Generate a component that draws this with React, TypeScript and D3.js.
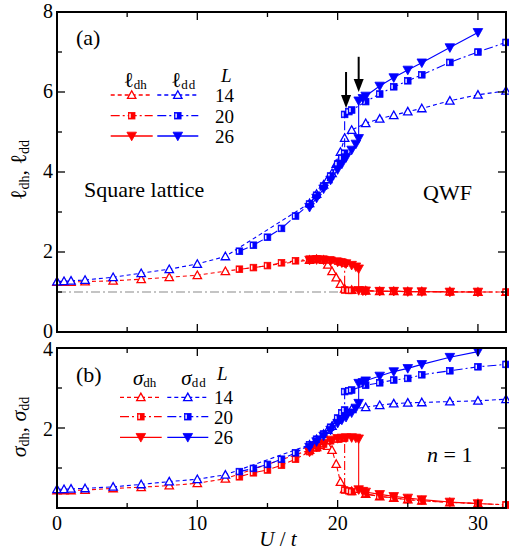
import React from 'react';
import * as d3 from 'd3';

// ---------- data ----------
const U14 = [0, 0.5, 1, 2, 4, 6, 8, 10, 12, 18, 18.5, 19, 19.3, 19.6, 19.9, 20.2, 20.5, 21, 22, 23, 24, 25, 26, 28, 30, 32];
const U20 = [13, 14, 15, 16, 17, 18, 18.5, 19, 19.5, 20, 20.3, 20.5, 20.5, 20.8, 21, 22, 23, 24, 25, 26, 28, 30, 32];
const U26 = [18, 18.5, 19, 19.5, 20, 20.3, 20.6, 21, 21.3, 21.5, 21.5, 21.8, 22, 23, 24, 25, 26, 28, 30];

// panel (a): ell
const lDd14 = [1.26, 1.27, 1.28, 1.30, 1.37, 1.47, 1.57, 1.70, 1.89, 3.22, 3.45, 3.68, 3.82, 3.97, 4.2, 4.5, 4.85, 5.05, 5.22, 5.33, 5.42, 5.51, 5.59, 5.78, 5.93, 6.03];
const lDh14 = [1.25, 1.25, 1.25, 1.26, 1.28, 1.32, 1.37, 1.42, 1.52, 1.80, 1.82, 1.80, 1.68, 1.52, 1.36, 1.2, 1.08, 1.05, 1.03, 1.02, 1.02, 1.01, 1.01, 1.01, 1.0, 1.0];
const lDd20 = [2.02, 2.17, 2.37, 2.59, 2.9, 3.2, 3.42, 3.65, 3.9, 4.2, 4.35, 4.47, 5.44, 5.51, 5.55, 5.76, 5.95, 6.13, 6.28, 6.43, 6.74, 7.0, 7.24];
const lDh20 = [1.57, 1.61, 1.66, 1.73, 1.78, 1.82, 1.83, 1.82, 1.8, 1.77, 1.75, 1.72, 1.05, 1.04, 1.04, 1.03, 1.02, 1.02, 1.01, 1.01, 1.0, 1.0, 1.0];
const lDd26 = [3.12, 3.35, 3.58, 3.8, 4.06, 4.2, 4.36, 4.55, 4.7, 4.84, 5.78, 5.84, 5.9, 6.15, 6.36, 6.55, 6.73, 7.11, 7.49];
const lDh26 = [1.8, 1.81, 1.8, 1.78, 1.75, 1.73, 1.71, 1.67, 1.63, 1.58, 1.04, 1.03, 1.03, 1.02, 1.02, 1.01, 1.01, 1.0, 1.0];

// panel (b): sigma
const sDd14 = [0.47, 0.47, 0.48, 0.49, 0.53, 0.59, 0.66, 0.72, 0.83, 1.58, 1.72, 1.85, 1.95, 2.05, 2.2, 2.3, 2.4, 2.47, 2.52, 2.57, 2.61, 2.63, 2.64, 2.66, 2.68, 2.72];
const sDh14 = [0.44, 0.44, 0.44, 0.45, 0.49, 0.52, 0.56, 0.62, 0.73, 1.45, 1.52, 1.57, 1.55, 1.45, 1.1, 0.65, 0.47, 0.42, 0.35, 0.29, 0.25, 0.21, 0.18, 0.14, 0.11, 0.08];
const sDd20 = [0.91, 0.99, 1.09, 1.22, 1.38, 1.58, 1.72, 1.85, 2.02, 2.25, 2.38, 2.45, 2.91, 2.93, 2.95, 3.07, 3.13, 3.2, 3.24, 3.33, 3.43, 3.53, 3.59];
const sDh20 = [0.78, 0.88, 0.95, 1.07, 1.22, 1.41, 1.5, 1.6, 1.68, 1.72, 1.74, 1.75, 0.45, 0.43, 0.41, 0.35, 0.29, 0.25, 0.21, 0.18, 0.14, 0.11, 0.08];
const sDd26 = [1.52, 1.66, 1.8, 1.95, 2.12, 2.2, 2.27, 2.38, 2.5, 2.62, 3.12, 3.14, 3.18, 3.3, 3.41, 3.49, 3.59, 3.77, 3.91];
const sDh26 = [1.4, 1.52, 1.62, 1.7, 1.74, 1.75, 1.76, 1.76, 1.75, 1.73, 0.46, 0.42, 0.4, 0.34, 0.29, 0.25, 0.21, 0.15, 0.11];

// reference line and arrows (panel a)
const refLineU = [0, 20.2];
const refLineV = [1, 1];
const arrowU = [20.6, 21.5];
const arrowTop = [6.5, 6.88];
const arrowTip = [5.6, 6.0];

// axes
const xMajor = [0, 10, 20, 30];
const xMinor = [5, 15, 25];
const yaMajor = [0, 2, 4, 6, 8];
const yaMinor = [1, 3, 5, 7];
const ybMajor = [0, 2, 4];
const ybMinor = [1, 3];
const ybLabels = [2, 4];
const sizes = ['14', '20', '26'];

const RED = '#ff0000';
const BLUE = '#0000ff';
const FONT = "'Liberation Serif', 'Times New Roman', Times, Tinos, 'Noto Serif', 'DejaVu Serif', FreeSerif, serif";
const serif = { fontFamily: FONT };

type MarkerKind = 'up' | 'sq' | 'down';
const DASH: Record<MarkerKind, string | undefined> = { up: '4,3', sq: '9,3,2,3', down: undefined };

function Marker({ kind, cx, cy, color }: { kind: MarkerKind; cx: number; cy: number; color: string }) {
  if (kind === 'up') {
    const s = 4.2;
    return <path d={`M${cx},${cy - s}L${cx + s},${cy + s * 0.8}L${cx - s},${cy + s * 0.8}Z`} fill="white" stroke={color} strokeWidth={1.3} />;
  }
  if (kind === 'down') {
    const s = 4.8;
    return <path d={`M${cx},${cy + s}L${cx + s},${cy - s * 0.8}L${cx - s},${cy - s * 0.8}Z`} fill={color} stroke={color} strokeWidth={0.8} />;
  }
  const h = 3.3;
  return (
    <g>
      <rect x={cx - h} y={cy - h} width={2 * h} height={2 * h} fill={color} stroke={color} strokeWidth={0.8} />
      <rect x={cx - h + 0.9} y={cy - h + 1.2} width={1.4} height={2 * h - 2.4} fill="white" />
    </g>
  );
}

function Series({ U, V, x, y, color, kind }: any) {
  const line = d3.line<number>().x((_, i) => x(U[i])).y((v) => y(v));
  return (
    <g>
      <path d={line(V) || ''} fill="none" stroke={color} strokeWidth={1.1} strokeDasharray={DASH[kind as MarkerKind]} />
      {V.map((v: number, i: number) => (
        <Marker key={i} kind={kind} cx={x(U[i])} cy={y(v)} color={color} />
      ))}
    </g>
  );
}

function Frame({ x, y, yMajor, yMinor }: any) {
  const [x0, x1] = x.range();
  const [yb, yt] = y.range();
  const Ma = 8, mi = 5;
  return (
    <g stroke="black">
      {xMajor.map((t: number) => (
        <g key={'xM' + t}>
          <line x1={x(t)} x2={x(t)} y1={yb} y2={yb - Ma} strokeWidth={1.3} />
          <line x1={x(t)} x2={x(t)} y1={yt} y2={yt + Ma} strokeWidth={1.3} />
        </g>
      ))}
      {xMinor.map((t: number) => (
        <g key={'xm' + t}>
          <line x1={x(t)} x2={x(t)} y1={yb} y2={yb - mi} strokeWidth={1.3} />
          <line x1={x(t)} x2={x(t)} y1={yt} y2={yt + mi} strokeWidth={1.3} />
        </g>
      ))}
      {yMajor.map((t: number) => (
        <g key={'yM' + t}>
          <line x1={x0} x2={x0 + Ma} y1={y(t)} y2={y(t)} strokeWidth={1.3} />
          <line x1={x1} x2={x1 - Ma} y1={y(t)} y2={y(t)} strokeWidth={1.3} />
        </g>
      ))}
      {yMinor.map((t: number) => (
        <g key={'ym' + t}>
          <line x1={x0} x2={x0 + mi} y1={y(t)} y2={y(t)} strokeWidth={1.3} />
          <line x1={x1} x2={x1 - mi} y1={y(t)} y2={y(t)} strokeWidth={1.3} />
        </g>
      ))}
      <rect x={x0} y={yt} width={x1 - x0} height={yb - yt} fill="none" strokeWidth={2} />
    </g>
  );
}

function Legend({ sym, yHead, rows, xr, xb, xl, xL }: any) {
  const kinds: MarkerKind[] = ['up', 'sq', 'down'];
  const it = sym === 'σ' ? 'italic' : 'normal';
  return (
    <g style={serif}>
      <text x={xr[0] + 13} y={yHead} fontSize={21} fontStyle={it}>
        {sym}
        <tspan fontSize={13} dy={2} fontStyle="normal">dh</tspan>
      </text>
      <text x={xb[0] + 14} y={yHead} fontSize={21} fontStyle={it}>
        {sym}
        <tspan fontSize={13} dy={2} fontStyle="normal" letterSpacing={1}>dd</tspan>
      </text>
      <text x={xL} y={yHead - 5} fontSize={19} fontStyle="italic">L</text>
      {rows.map((ry: number, i: number) => (
        <g key={i}>
          <line x1={xr[0]} x2={xr[1]} y1={ry} y2={ry} stroke={RED} strokeWidth={1.3} strokeDasharray={DASH[kinds[i]]} />
          <Marker kind={kinds[i]} cx={(xr[0] + xr[1]) / 2} cy={ry} color={RED} />
          <line x1={xb[0]} x2={xb[1]} y1={ry} y2={ry} stroke={BLUE} strokeWidth={1.3} strokeDasharray={DASH[kinds[i]]} />
          <Marker kind={kinds[i]} cx={(xb[0] + xb[1]) / 2} cy={ry} color={BLUE} />
          <text x={xl} y={ry + 7} fontSize={19}>{sizes[i]}</text>
        </g>
      ))}
    </g>
  );
}

export default function App() {
  const x = d3.scaleLinear().domain([0, 32]).range([57, 506]);
  const ya = d3.scaleLinear().domain([0, 8]).range([332, 12]);
  const yb = d3.scaleLinear().domain([0, 4]).range([508, 348]);

  const seriesA = [
    { U: U14, V: lDh14, color: RED, kind: 'up' },
    { U: U14, V: lDd14, color: BLUE, kind: 'up' },
    { U: U20, V: lDh20, color: RED, kind: 'sq' },
    { U: U20, V: lDd20, color: BLUE, kind: 'sq' },
    { U: U26, V: lDh26, color: RED, kind: 'down' },
    { U: U26, V: lDd26, color: BLUE, kind: 'down' },
  ];
  const seriesB = [
    { U: U14, V: sDh14, color: RED, kind: 'up' },
    { U: U14, V: sDd14, color: BLUE, kind: 'up' },
    { U: U20, V: sDh20, color: RED, kind: 'sq' },
    { U: U20, V: sDd20, color: BLUE, kind: 'sq' },
    { U: U26, V: sDh26, color: RED, kind: 'down' },
    { U: U26, V: sDd26, color: BLUE, kind: 'down' },
  ];

  return (
    <svg width={509} height={550} style={{ position: 'absolute', left: 0, top: 0, background: 'white' }}>
      {/* reference line */}
      <line x1={x(refLineU[0])} x2={x(refLineU[1])} y1={ya(refLineV[0])} y2={ya(refLineV[1])} stroke="#8a8a8a" strokeWidth={1.2} strokeDasharray="9,3,2,3" />
      {seriesA.map((s, i) => <Series key={'a' + i} {...s} x={x} y={ya} />)}
      {seriesB.map((s, i) => <Series key={'b' + i} {...s} x={x} y={yb} />)}

      {/* arrows */}
      {arrowU.map((u, i) => {
        const cx = x(u);
        const t = ya(arrowTop[i]);
        const tip = ya(arrowTip[i]);
        return (
          <g key={'ar' + i}>
            <line x1={cx} x2={cx} y1={t} y2={tip - 10} stroke="black" strokeWidth={2} />
            <path d={`M${cx - 5},${tip - 13}L${cx + 5},${tip - 13}L${cx},${tip}Z`} fill="black" />
          </g>
        );
      })}

      <Frame x={x} y={ya} yMajor={yaMajor} yMinor={yaMinor} />
      <Frame x={x} y={yb} yMajor={ybMajor} yMinor={ybMinor} />

      {/* tick labels */}
      <g style={serif} fontSize={20}>
        {yaMajor.map((t) => (
          <text key={'yal' + t} x={53} y={ya(t) + 6} textAnchor="end">{t}</text>
        ))}
        {ybLabels.map((t) => (
          <text key={'ybl' + t} x={53} y={yb(t) + 8} textAnchor="end">{t}</text>
        ))}
        {xMajor.map((t) => (
          <text key={'xl' + t} x={x(t)} y={530} textAnchor="middle">{t}</text>
        ))}
      </g>

      {/* axis titles */}
      <text x={278} y={546} textAnchor="middle" style={serif} fontSize={21}>
        <tspan fontStyle="italic">U</tspan> / <tspan fontStyle="italic">t</tspan>
      </text>
      <text transform="translate(26,170) rotate(-90)" textAnchor="middle" style={serif} fontSize={22}>
        ℓ<tspan fontSize={14} dy={3}>dh</tspan><tspan dy={-3}>, ℓ</tspan><tspan fontSize={14} dy={3}>dd</tspan>
      </text>
      <text transform="translate(26,427) rotate(-90)" textAnchor="middle" style={serif} fontSize={22}>
        <tspan fontStyle="italic">σ</tspan><tspan fontSize={14} dy={3}>dh</tspan><tspan dy={-3}>, </tspan><tspan fontStyle="italic">σ</tspan><tspan fontSize={14} dy={3}>dd</tspan>
      </text>

      {/* panel texts */}
      <g style={serif}>
        <text x={76} y={45} fontSize={22}>(a)</text>
        <text x={76} y={382} fontSize={22}>(b)</text>
        <text x={84} y={197} fontSize={22}>Square lattice</text>
        <text x={423} y={200} fontSize={22}>QWF</text>
        <text x={427} y={462} fontSize={22}><tspan fontStyle="italic">n</tspan> = 1</text>
      </g>

      <Legend sym="ℓ" yHead={87} rows={[95, 115.7, 136]} xr={[110.7, 152.7]} xb={[157.3, 198.3]} xl={215} xL={221} />
      <Legend sym="σ" yHead={385} rows={[397.3, 416.7, 437.3]} xr={[120, 161.7]} xb={[167.3, 208.3]} xl={214} xL={217} />
    </svg>
  );
}
